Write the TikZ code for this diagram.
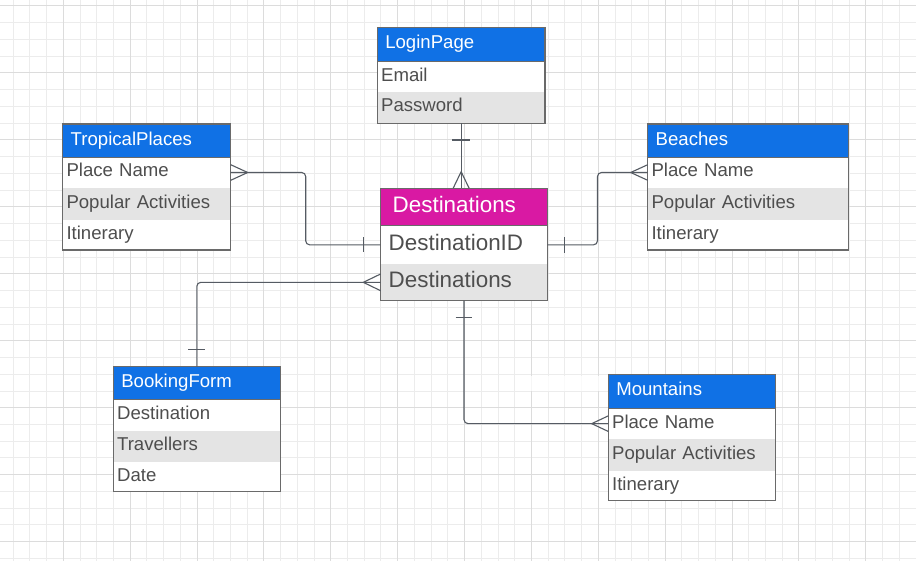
\documentclass[tikz,border=0pt]{standalone}
\usepackage{fontspec}
\setmainfont{Liberation Sans}
\usetikzlibrary{calc}
\definecolor{hblue}{RGB}{16,113,229}
\definecolor{hmag}{RGB}{217,25,163}
\definecolor{rowgray}{RGB}{228,228,228}
\definecolor{txtc}{RGB}{78,78,78}
\definecolor{bordc}{RGB}{106,106,106}
\definecolor{linec}{RGB}{85,91,99}
\definecolor{gridmin}{RGB}{236,236,236}
\definecolor{gridmaj}{RGB}{220,220,220}
\begin{document}
\begin{tikzpicture}[x=1pt,y=-1pt,
  every node/.style={inner ysep=0pt, outer sep=0pt},
  ent/.style={anchor=north west, align=left, font=\fontsize{18.6}{20}\selectfont, text height=13.4pt, text depth=4.6pt},
  hdr/.style 2 args={ent, fill=hblue, text=white, inner xsep=8pt, text width=#1, minimum height=#2},
  bighdr/.style 2 args={ent, fill=hmag, text=white, inner xsep=12pt, text width=#1, minimum height=#2,
     font=\fontsize{22.4}{24}\selectfont, text height=16.2pt, text depth=5.6pt},
  rw/.style 2 args={ent, fill=white, text=txtc, inner xsep=3.8pt, text width=#1, minimum height=#2},
  rwg/.style 2 args={rw={#1}{#2}, fill=rowgray},
  bigrw/.style 2 args={ent, fill=white, text=txtc, inner xsep=8pt, text width=#1, minimum height=#2,
     font=\fontsize{22.4}{24}\selectfont, text height=16.2pt, text depth=5.6pt},
  bigrwg/.style 2 args={bigrw={#1}{#2}, fill=rowgray},
  border/.style={draw=bordc, line width=1.4pt},
  sep/.style={draw=bordc, line width=1pt},
  conn/.style={draw=linec, line width=1.1pt},
  gmin/.style={draw=gridmin, line width=1pt},
  gmaj/.style={draw=gridmaj, line width=1pt}
]
\useasboundingbox (0,0) rectangle (916,561);
\fill[white] (0,0) rectangle (916,561);
% grid
\foreach \i in {0,...,55} {
  \draw[gmin] ({-3.57+16.72*\i},0) -- ({-3.57+16.72*\i},561);
}
\foreach \i in {-1,...,33} {
  \draw[gmin] (0,{6+16.74*\i}) -- (916,{6+16.74*\i});
}
\foreach \i in {0,...,14} {
  \draw[gmaj] ({-3.57+66.88*\i},0) -- ({-3.57+66.88*\i},561);
}
\foreach \i in {0,...,8} {
  \draw[gmaj] (0,{6+66.96*\i}) -- (916,{6+66.96*\i});
}
\fill[white, opacity=0.75] (523,376) rectangle (600,391);

% LoginPage
\node[hdr={151.7pt}{34.4pt}] (lp-h) at (377.3,27.3) {LoginPage};
\node[rw={160.1pt}{30pt}] (lp-1) at (lp-h.south west) {Email};
\node[rwg={160.1pt}{31.6pt}] (lp-2) at (lp-1.south west) {Password};
\draw[border] (lp-h.north west) rectangle (lp-2.south east);
\draw[sep] (lp-h.south west) -- (lp-h.south east);

% TropicalPlaces
\node[hdr={152pt}{33.3pt}] (tp-h) at (62.7,124) {TropicalPlaces};
\node[rw={160.4pt}{30.4pt}] (tp-1) at (tp-h.south west) {Place Name};
\node[rwg={160.4pt}{32.3pt}] (tp-2) at (tp-1.south west) {Popular Activities};
\node[rw={160.4pt}{30pt}] (tp-3) at (tp-2.south west) {Itinerary};
\draw[border] (tp-h.north west) rectangle (tp-3.south east);
\draw[sep] (tp-h.south west) -- (tp-h.south east);

% Beaches
\node[hdr={184.6pt}{33.3pt}] (be-h) at (647.7,124) {Beaches};
\node[rw={193pt}{30.4pt}] (be-1) at (be-h.south west) {Place Name};
\node[rwg={193pt}{32.3pt}] (be-2) at (be-1.south west) {Popular Activities};
\node[rw={193pt}{30pt}] (be-3) at (be-2.south west) {Itinerary};
\draw[border] (be-h.north west) rectangle (be-3.south east);
\draw[sep] (be-h.south west) -- (be-h.south east);

% Destinations
\node[bighdr={142.6pt}{37.4pt}] (de-h) at (380.7,188.3) {Destinations};
\node[bigrw={150.6pt}{38.3pt}] (de-1) at (de-h.south west) {DestinationID};
\node[bigrwg={150.6pt}{36.7pt}] (de-2) at (de-1.south west) {Destinations};
\draw[border] (de-h.north west) rectangle (de-2.south east);
\draw[sep] (de-h.south west) -- (de-h.south east);

% BookingForm
\node[hdr={151pt}{32.6pt}] (bf-h) at (113.3,366.7) {BookingForm};
\node[rw={159.4pt}{31.7pt}] (bf-1) at (bf-h.south west) {Destination};
\node[rwg={159.4pt}{30.7pt}] (bf-2) at (bf-1.south west) {Travellers};
\node[rw={159.4pt}{30pt}] (bf-3) at (bf-2.south west) {Date};
\draw[border] (bf-h.north west) rectangle (bf-3.south east);
\draw[sep] (bf-h.south west) -- (bf-h.south east);

% Mountains
\node[hdr={151.4pt}{34pt}] (mo-h) at (608.3,374.3) {Mountains};
\node[rw={159.8pt}{30.7pt}] (mo-1) at (mo-h.south west) {Place Name};
\node[rwg={159.8pt}{31.7pt}] (mo-2) at (mo-1.south west) {Popular Activities};
\node[rw={159.8pt}{30pt}] (mo-3) at (mo-2.south west) {Itinerary};
\draw[border] (mo-h.north west) rectangle (mo-3.south east);
\draw[sep] (mo-h.south west) -- (mo-h.south east);

% --- connectors ---
% LoginPage -> Destinations
\coordinate (c1) at (lp-2.south |- de-h.north);
\draw[conn] (lp-2.south) -- (c1);
\draw[conn] ($(lp-2.south)+(-8.7,16.7)$) -- ++(17.4,0);
\draw[conn] ($(c1)+(-8,0)$) -- ($(c1)+(0,-16.6)$) -- ($(c1)+(8,0)$);

% TropicalPlaces -> Destinations
\coordinate (m2) at ($(tp-1.east)!0.5!(de-1.west)$);
\draw[conn, rounded corners=4pt] (tp-1.east) -- (tp-1.east -| m2) -- (m2 |- de-1.west) -- (de-1.west);
\draw[conn] ($(tp-1.east)+(0,-7.8)$) -- ($(tp-1.east)+(17,0)$) -- ($(tp-1.east)+(0,7.8)$);
\draw[conn] ($(de-1.west)+(-17.4,-7.5)$) -- ++(0,15);

% Beaches -> Destinations
\coordinate (m3) at ($(de-1.east)!0.5!(be-1.west)$);
\draw[conn, rounded corners=4pt] (de-1.east) -- (de-1.east -| m3) -- (m3 |- be-1.west) -- (be-1.west);
\draw[conn] ($(be-1.west)+(0,-7.8)$) -- ($(be-1.west)+(-17,0)$) -- ($(be-1.west)+(0,7.8)$);
\draw[conn] ($(de-1.east)+(17,-7.8)$) -- ++(0,15.6);

% BookingForm -> Destinations
\coordinate (c4) at (bf-h.north |- de-2.west);
\draw[conn, rounded corners=4pt] (bf-h.north) -- (c4) -- (de-2.west);
\draw[conn] ($(bf-h.north)+(-8.4,-17.4)$) -- ++(16.8,0);
\draw[conn] ($(de-2.west)+(0,-8.4)$) -- ($(de-2.west)+(-17.4,0)$) -- ($(de-2.west)+(0,8.4)$);

% Destinations -> Mountains
\coordinate (c5) at (de-2.south |- mo-1.west);
\draw[conn, rounded corners=4pt] (de-2.south) -- (c5) -- (mo-1.west);
\draw[conn] ($(de-2.south)+(-8.3,17)$) -- ++(16.6,0);
\draw[conn] ($(mo-1.west)+(0,-7.8)$) -- ($(mo-1.west)+(-16.6,0)$) -- ($(mo-1.west)+(0,7.8)$);
\end{tikzpicture}
\end{document}
